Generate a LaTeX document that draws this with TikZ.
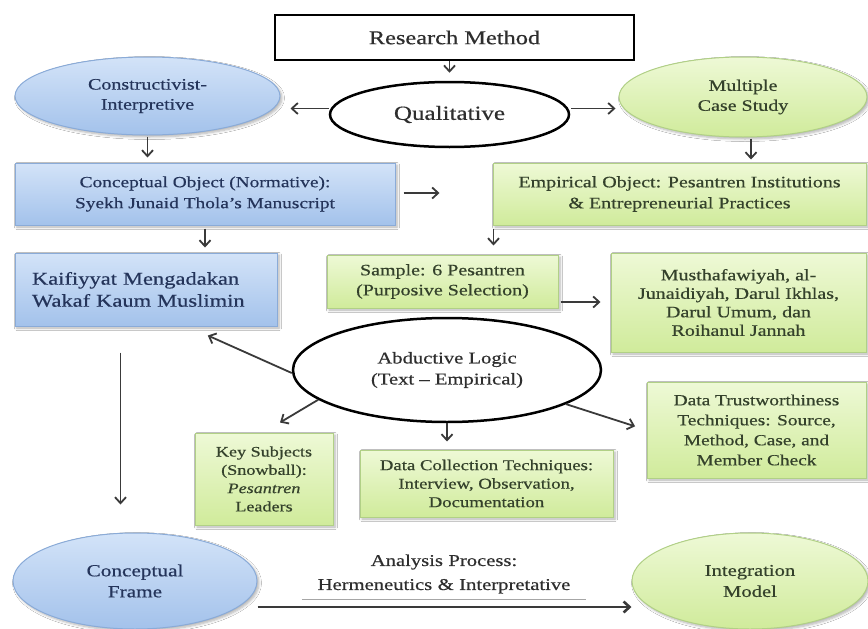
\documentclass[tikz,border=0pt]{standalone}
\usepackage{fontspec}
\setmainfont{Liberation Serif}[FakeStretch=1.25, FakeBold=0.5]
\usetikzlibrary{arrows.meta,shapes.geometric,calc,shadows.blur}

\definecolor{bluetop}{HTML}{D3E3F8}
\definecolor{bluebot}{HTML}{A3C2EB}
\definecolor{blueline}{HTML}{8AABD8}
\definecolor{bluetext}{HTML}{24345A}
\definecolor{greentop}{HTML}{EEF9D6}
\definecolor{greenbot}{HTML}{D0EB9B}
\definecolor{greenline}{HTML}{B1D086}
\definecolor{greentext}{HTML}{34412B}
\definecolor{inktext}{HTML}{2E2E2E}
\definecolor{arrowink}{HTML}{3A3A3A}

\newcommand\fsz[2]{\fontsize{#1}{#2}\selectfont}

\tikzset{
  softshadow/.style={blur shadow={shadow xshift=2pt, shadow yshift=-2pt,
      shadow blur radius=2.5pt, shadow blur steps=6, shadow opacity=30}},
  bluebox/.style={draw=blueline, line width=1pt, top color=bluetop,
      bottom color=bluebot, text=bluetext, softshadow, inner sep=0pt,
      align=center},
  bluebubble/.style={bluebox, ellipse},
  greenbox/.style={draw=greenline, line width=1pt, top color=greentop,
      bottom color=greenbot, text=greentext, softshadow, inner sep=0pt,
      align=center},
  greenbubble/.style={greenbox, ellipse},
  inkoval/.style={ellipse, draw=black, line width=2.5pt, fill=white,
      text=inktext, inner sep=0pt, align=center},
  inkbox/.style={rectangle, draw=black, line width=2.5pt, fill=white,
      text=inktext, inner sep=0pt, align=center},
  arr/.style={draw=arrowink, line width=1.8pt,
      -{Straight Barb[length=6pt,width=11pt]}},
}

\begin{document}
\begin{tikzpicture}[x=1pt, y=-1pt]
  \fill[white] (0,0) rectangle (868,629);
  \useasboundingbox (0,0) rectangle (868,629);

  % top level
  \node[inkbox, minimum width=359pt, minimum height=45pt, font=\fsz{19.5}{22}]
    (rm) at (454.5,37.5) {Research Method};
  \node[inkoval, minimum width=239pt, minimum height=65pt, font=\fsz{20}{22}]
    (qual) at (449.5,114.5) {Qualitative};
  \node[bluebubble, minimum width=265pt, minimum height=78pt, font=\fsz{16}{20}]
    (cons) at (147.5,96) {Constructivist-\\Interpretive};
  \node[greenbubble, minimum width=248pt, minimum height=80pt, font=\fsz{16}{20}]
    (mcs) at (743,97) {Multiple\\Case Study};

  % objects
  \node[bluebox, minimum width=380pt, minimum height=62pt, font=\fsz{15.5}{21}]
    (cobj) at (205,194) {Conceptual Object (Normative):\\Syekh Junaid Thola’s Manuscript};
  \node[greenbox, minimum width=373pt, minimum height=62pt, font=\fsz{16}{21}]
    (eobj) at (679.5,194) {Empirical Object: Pesantren Institutions\\\& Entrepreneurial Practices};

  % manuscript and sample
  \node[bluebox, minimum width=262pt, minimum height=73pt, text width=228pt,
        align=left, font=\fsz{18}{22}]
    (kaif) at (146,289.5) {Kaifiyyat Mengadakan\\Wakaf Kaum Muslimin};
  \node[greenbox, minimum width=231pt, minimum height=53pt, font=\fsz{16}{20}]
    (samp) at (442.5,281.5) {Sample: 6 Pesantren\\(Purposive Selection)};
  \node[greenbox, minimum width=255pt, minimum height=99pt, font=\fsz{16}{18.5}]
    (must) at (738.5,302.5) {Musthafawiyah, al-\\Junaidiyah, Darul Ikhlas,\\Darul Umum, dan\\Roihanul Jannah};

  % abductive logic and its branches
  \node[inkoval, minimum width=308pt, minimum height=104pt, font=\fsz{16.5}{21}]
    (abd) at (447,370) {Abductive Logic\\(Text -- Empirical)};
  \node[greenbox, minimum width=138pt, minimum height=92pt, font=\fsz{14.5}{18.3}]
    (keys) at (264,479) {Key Subjects\\(Snowball):\\\textit{Pesantren}\\Leaders};
  \node[greenbox, minimum width=253pt, minimum height=67pt, font=\fsz{15}{18.5}]
    (dcol) at (486.5,483.5) {Data Collection Techniques:\\Interview, Observation,\\Documentation};
  \node[greenbox, minimum width=219pt, minimum height=96pt, font=\fsz{15.5}{20}]
    (dtru) at (756.5,430) {Data Trustworthiness\\Techniques: Source,\\Method, Case, and\\Member Check};

  % bottom row
  \node[bluebubble, minimum width=244pt, minimum height=96pt, font=\fsz{17}{21}]
    (cfr) at (135,581) {Conceptual\\Frame};
  \node[greenbubble, minimum width=236pt, minimum height=96pt, font=\fsz{16.5}{21}]
    (intm) at (750,581) {Integration\\Model};
  \node[text=inktext, align=center, text width=284pt, inner sep=0pt,
        font=\fsz{16.5}{24}] (ana) at (444,574) {Analysis Process:\\Hermeneutics \& Interpretative};
  \draw[gray!70, line width=0.6pt] ($(ana.south west)+(0,6)$) -- ($(ana.south east)+(0,6)$);

  % connectors
  \draw[arr, shorten >=8pt] (rm.south -| qual.north) -- (qual.north);
  \draw[arr, shorten >=10pt] ([yshift=6pt]qual.west) -- ([yshift=6pt]qual.west -| cons.east);
  \draw[arr, shorten <=1pt, shorten >=3pt] ([yshift=6pt]qual.east) -- ([yshift=6pt]qual.east -| mcs.west);
  \draw[arr, shorten <=1pt, shorten >=5pt] (cons.south) -- (cons.south |- cobj.north);
  \draw[arr, shorten <=1pt, shorten >=3pt] ([xshift=8pt]mcs.south) -- ([xshift=8pt]mcs.south |- eobj.north);
  \draw[arr, shorten <=8pt, shorten >=53pt] ([yshift=1pt]cobj.east) -- ([yshift=1pt]cobj.east -| eobj.west);
  \draw[arr, shorten <=3pt, shorten >=5pt] (cobj.south) -- (cobj.south |- kaif.north);
  \draw[arr, shorten <=3pt, shorten >=9pt] ([xshift=1pt]eobj.south west) -- ([xshift=1pt]eobj.south west |- samp.north);
  \draw[arr, shorten <=2pt, shorten >=10pt] ([yshift=-20.5pt]samp.east) -- ([yshift=-20.5pt]samp.east -| must.west);

  \draw[arr] ([yshift=-3pt]abd.west) -- ($(kaif.south)!0.47!(kaif.south east)+(0,9)$);
  \draw[arr] (abd.193.5) -- ($(keys.north)+(16,-10)$);
  \draw[arr, shorten >=8pt] (abd.south) -- (abd.south |- dcol.north);
  \draw[arr, shorten >=12pt] (abd.-16) -- (dtru.west);

  \coordinate (vtop) at ($(kaif.south west)+(106,26)$);
  \draw[arr] (vtop) -- ($(vtop |- cfr.north)+(0,-28)$);

  \coordinate (bstart) at ($(cfr.east)+(0,26)$);
  \draw[arr, line width=2.6pt] (bstart) -- (bstart -| intm.west);
\end{tikzpicture}
\end{document}
